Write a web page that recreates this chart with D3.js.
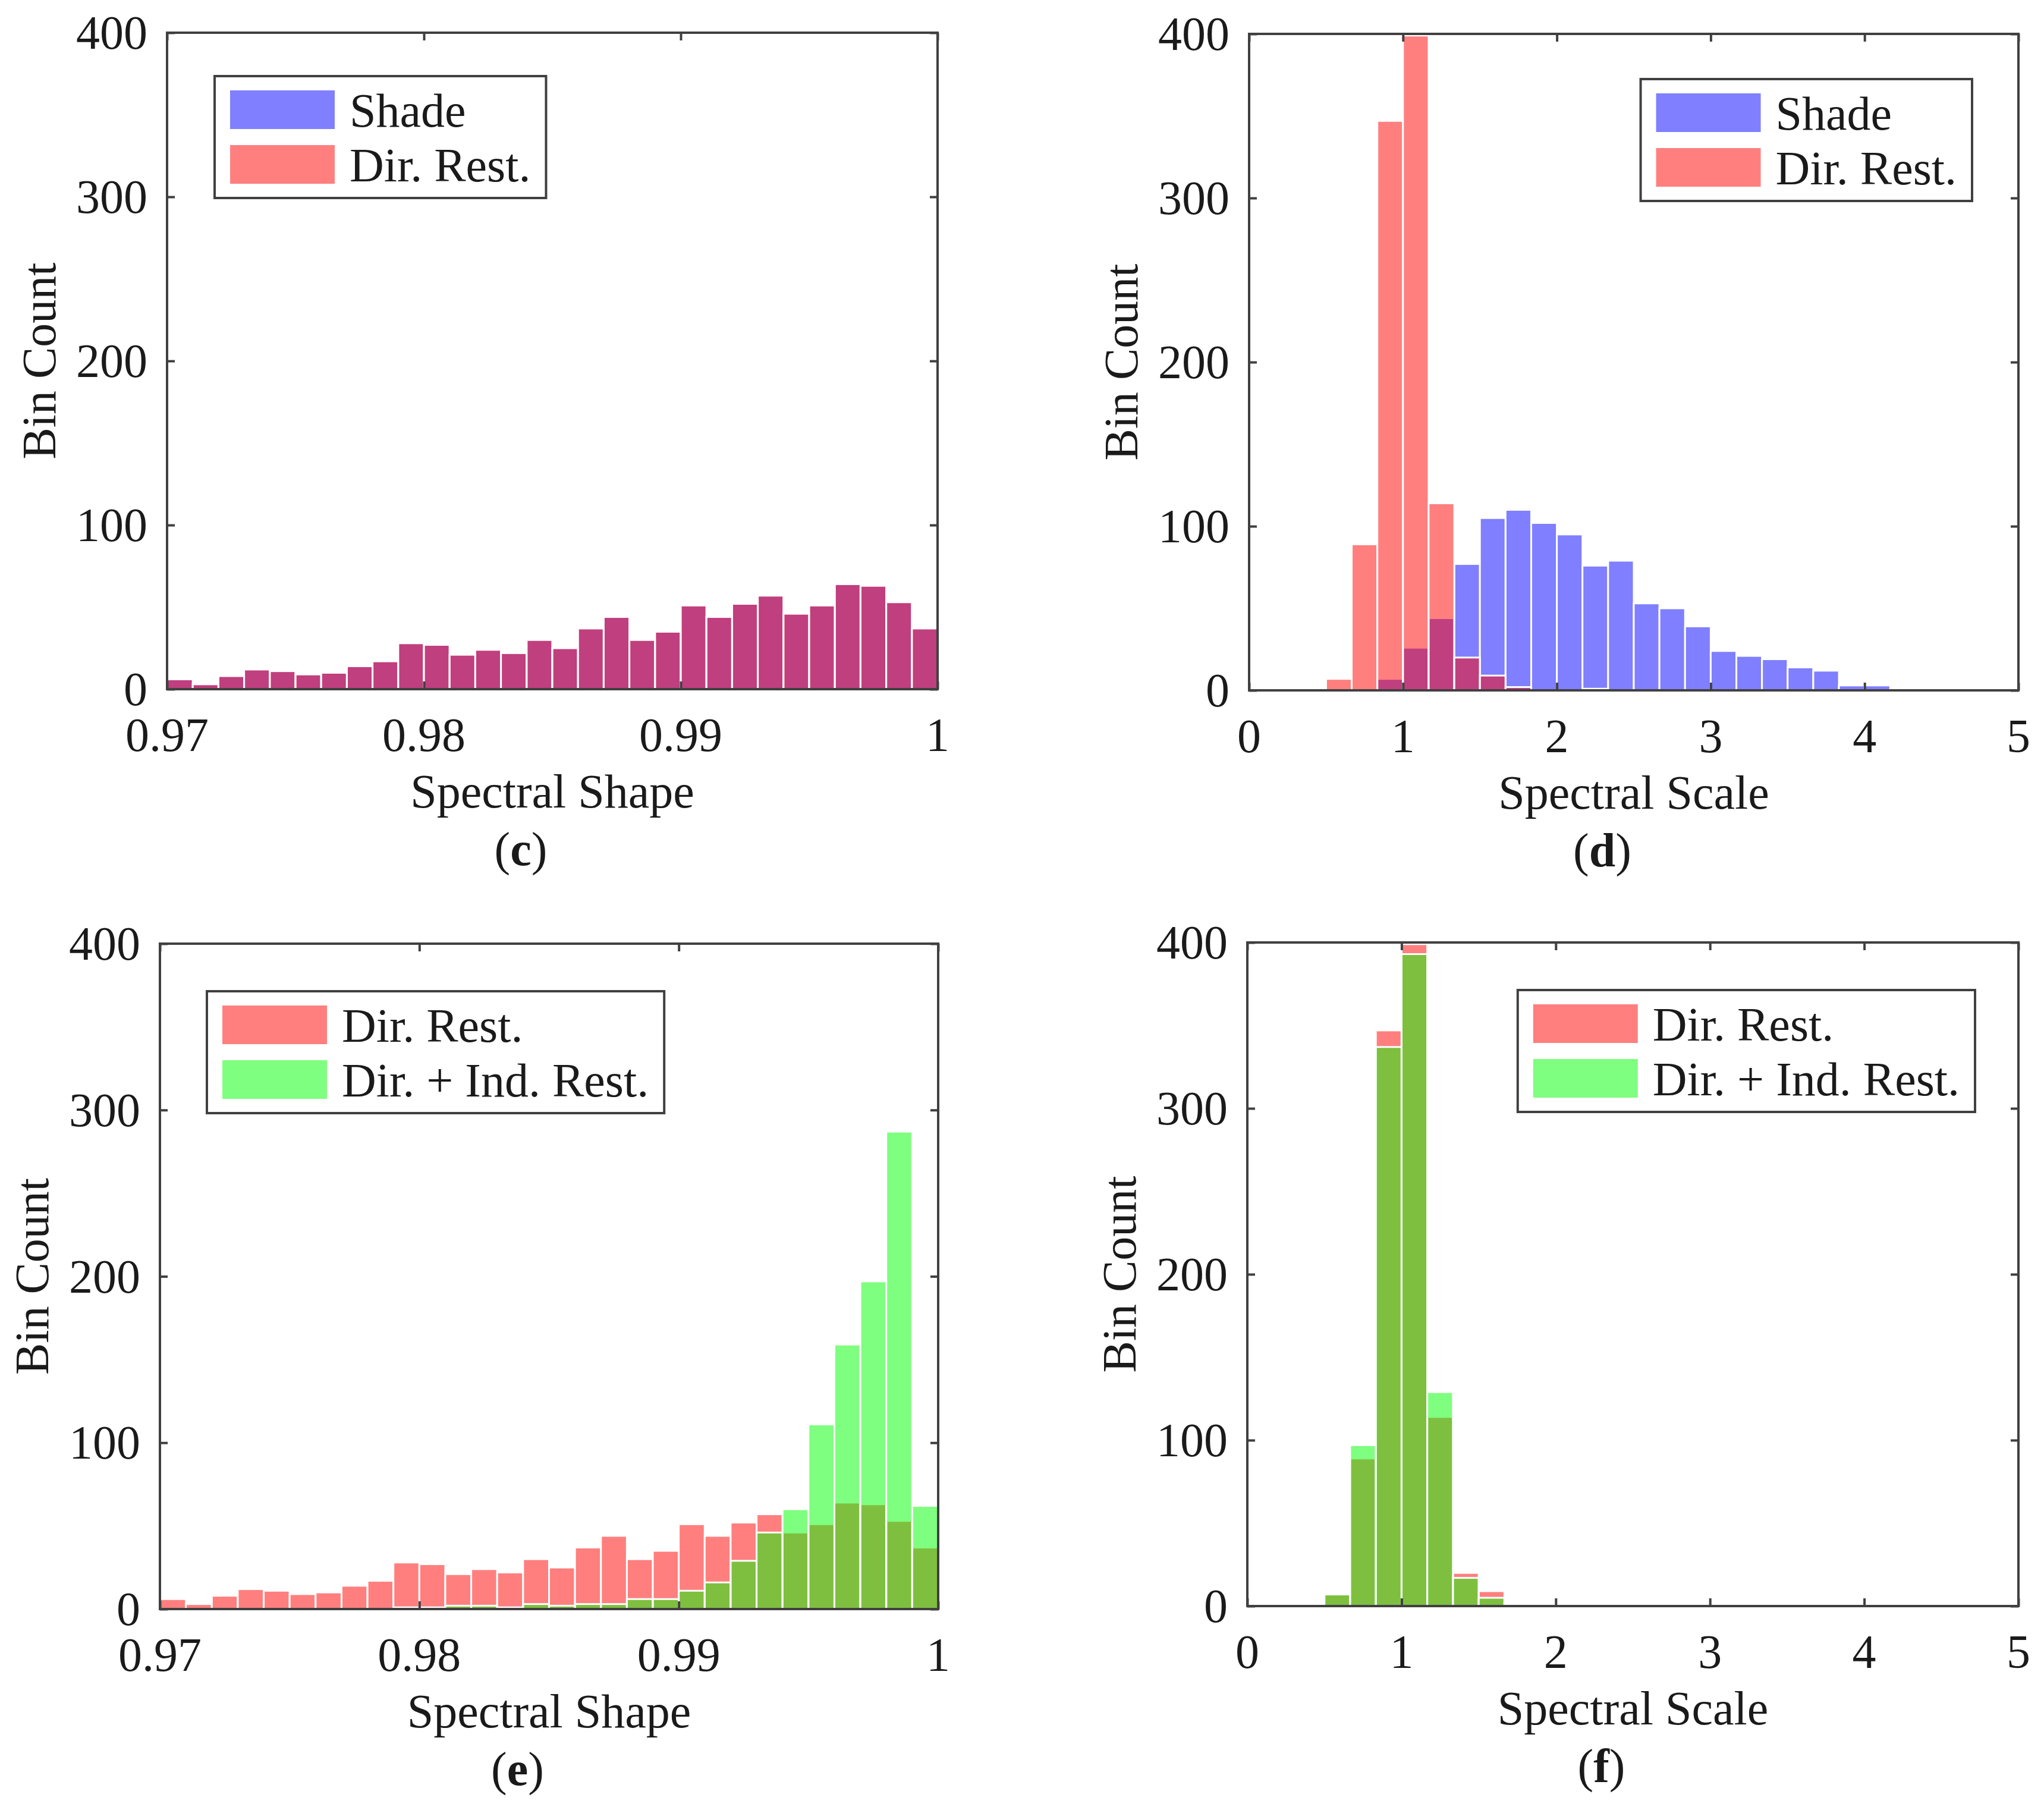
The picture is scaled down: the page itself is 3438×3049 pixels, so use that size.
<!DOCTYPE html>
<html>
<head>
<meta charset="utf-8">
<script src="https://cdn.jsdelivr.net/npm/d3@7"></script>
<style>
  body { margin: 0; background: #fff; }
  text { font-family: "Liberation Serif", "Times New Roman", serif; fill: #1a1a1a; }
</style>
</head>
<body>
<svg id="fig" width="3438" height="3049"></svg>
<script>
// ---- data ----
var shapeDomain = [0.97, 1.0];      // 30 bins of 0.001
var scaleDomain = [0, 5];           // 30 bins of 1/6
var shapeTicks = [0.97, 0.98, 0.99, 1];
var scaleTicks = [0, 1, 2, 3, 4, 5];
var countTicks = [0, 100, 200, 300, 400];

var shapeShade      = [6, 3, 8, 12, 11, 9, 10, 14, 17, 28, 27, 21, 24, 22, 30, 25, 37, 44, 30, 35, 51, 44, 52, 57, 46, 51, 64, 63, 53, 37];
var shapeDirRest    = [6, 3, 8, 12, 11, 9, 10, 14, 17, 28, 27, 21, 24, 22, 30, 25, 37, 44, 30, 35, 51, 44, 52, 57, 46, 51, 64, 63, 53, 37];
var shapeDirIndRest = [0, 0, 0, 0, 0, 0, 0, 0, 0, 1, 1, 2, 2, 1, 3, 2, 3, 3, 6, 6, 11, 16, 29, 46, 60, 111, 159, 197, 287, 62];

var scaleShade      = [0, 0, 0, 0, 0, 7, 26, 44, 77, 105, 110, 102, 95, 76, 79, 53, 50, 39, 24, 21, 19, 14, 12, 3, 3, 1, 1, 0, 0, 0];
var scaleDirRest    = [0, 0, 0, 7, 89, 347, 399, 114, 20, 9, 2, 0, 0, 1, 0, 0, 0, 0, 0, 0, 0, 0, 0, 0, 0, 0, 0, 0, 0, 0];
var scaleDirIndRest = [0, 0, 0, 7, 97, 337, 393, 129, 17, 5, 1, 0, 0, 0, 0, 0, 0, 0, 0, 0, 0, 0, 0, 0, 0, 0, 0, 0, 0, 0];

var BLUE = "#0000ff", RED = "#ff0000", GREEN = "#00ff00";
var FS = 80;

var panels = [
  { tag: "c", left: 281, right: 1577, top: 55, bottom: 1159,
    xDomain: shapeDomain, xTicks: shapeTicks, xLabel: "Spectral Shape",
    series: [{ name: "Shade", values: shapeShade, color: BLUE },
             { name: "Dir. Rest.", values: shapeDirRest, color: RED }],
    legend: { x: 361, y: 128 } },
  { tag: "d", left: 2101, right: 3395, top: 57, bottom: 1161,
    xDomain: scaleDomain, xTicks: scaleTicks, xLabel: "Spectral Scale",
    series: [{ name: "Shade", values: scaleShade, color: BLUE },
             { name: "Dir. Rest.", values: scaleDirRest, color: RED }],
    legend: { right: 3317, y: 133 } },
  { tag: "e", left: 269, right: 1578, top: 1587, bottom: 2706,
    xDomain: shapeDomain, xTicks: shapeTicks, xLabel: "Spectral Shape",
    series: [{ name: "Dir. Rest.", values: shapeDirRest, color: RED },
             { name: "Dir. + Ind. Rest.", values: shapeDirIndRest, color: GREEN }],
    legend: { x: 348, y: 1667 } },
  { tag: "f", left: 2098, right: 3395, top: 1585, bottom: 2701,
    xDomain: scaleDomain, xTicks: scaleTicks, xLabel: "Spectral Scale",
    series: [{ name: "Dir. Rest.", values: scaleDirRest, color: RED },
             { name: "Dir. + Ind. Rest.", values: scaleDirIndRest, color: GREEN }],
    legend: { right: 3322, y: 1665 } }
];

var svg = d3.select("#fig");
svg.append("rect").attr("width", 3438).attr("height", 3049).attr("fill", "#fff");

panels.forEach(function(p) {
  var x = d3.scaleLinear().domain(p.xDomain).range([p.left, p.right]);
  var y = d3.scaleLinear().domain([0, 400]).range([p.bottom, p.top]);
  var g = svg.append("g");

  // bars
  p.series.forEach(function(s) {
    var nb = s.values.length;
    var bw = (p.xDomain[1] - p.xDomain[0]) / nb;
    var bins = s.values.map(function(v, i) {
      return { x0: p.xDomain[0] + i * bw, x1: p.xDomain[0] + (i + 1) * bw, v: v };
    }).filter(function(b) { return b.v > 0; });
    g.append("g").selectAll("rect").data(bins).enter().append("rect")
      .attr("x", function(b) { return x(b.x0); })
      .attr("width", function(b) { return x(b.x1) - x(b.x0); })
      .attr("y", function(b) { return y(b.v); })
      .attr("height", function(b) { return y(0) - y(b.v); })
      .attr("fill", s.color).attr("fill-opacity", 0.5)
      .attr("stroke", "#fff").attr("stroke-width", 3);
  });

  // inward ticks on all four sides
  var tl = 13;
  var axes = [
    [d3.axisBottom(x).tickValues(p.xTicks).tickSize(-tl), p.bottom, 0],
    [d3.axisTop(x).tickValues(p.xTicks).tickSize(-tl), p.top, 0],
    [d3.axisLeft(y).tickValues(countTicks).tickSize(-tl), 0, p.left],
    [d3.axisRight(y).tickValues(countTicks).tickSize(-tl), 0, p.right]
  ];
  axes.forEach(function(a) {
    var ag = g.append("g").attr("transform", "translate(" + a[2] + "," + a[1] + ")")
      .call(a[0].tickFormat(""));
    ag.select(".domain").remove();
    ag.selectAll("line").attr("stroke", "#404040").attr("stroke-width", 4);
  });

  // box
  g.append("rect").attr("x", p.left).attr("y", p.top)
    .attr("width", p.right - p.left).attr("height", p.bottom - p.top)
    .attr("fill", "none").attr("stroke", "#404040").attr("stroke-width", 4);

  // tick labels
  var fmt = d3.format("~g");
  g.append("g").selectAll("text").data(p.xTicks).enter().append("text")
    .attr("x", function(d) { return x(d); }).attr("y", p.bottom + 104)
    .attr("text-anchor", "middle").attr("font-size", FS).text(fmt);
  g.append("g").selectAll("text").data(countTicks).enter().append("text")
    .attr("x", p.left - 33).attr("y", function(d) { return y(d) + 27; })
    .attr("text-anchor", "end").attr("font-size", FS).text(fmt);

  // axis labels
  var cx = (p.left + p.right) / 2;
  g.append("text").attr("x", cx).attr("y", p.bottom + 199)
    .attr("text-anchor", "middle").attr("font-size", FS).text(p.xLabel);
  g.append("text")
    .attr("transform", "translate(" + (p.left - 215 + 27) + "," + ((p.top + p.bottom) / 2) + ") rotate(-90)")
    .attr("text-anchor", "middle").attr("font-size", FS).text("Bin Count");

  // caption
  var cap = g.append("text").attr("x", cx - 53).attr("y", p.bottom + 296)
    .attr("text-anchor", "middle").attr("font-size", FS);
  cap.append("tspan").text("(");
  cap.append("tspan").attr("font-weight", "bold").text(p.tag);
  cap.append("tspan").text(")");

  // legend
  var lg = g.append("g");
  var box = lg.append("rect").attr("fill", "#fff").attr("stroke", "#404040").attr("stroke-width", 4);
  var padL = 26, swW = 176, swH = 65, gap = 25, rowH = 92, padT = 24;
  var maxW = 0;
  p.series.forEach(function(s, i) {
    var cy = padT + swH / 2 + i * rowH;
    lg.append("rect").attr("x", padL).attr("y", cy - swH / 2)
      .attr("width", swW).attr("height", swH)
      .attr("fill", s.color).attr("fill-opacity", 0.5);
    var t = lg.append("text").attr("x", padL + swW + gap).attr("y", cy + 28)
      .attr("font-size", FS).text(s.name);
    maxW = Math.max(maxW, t.node().getComputedTextLength());
  });
  var bwid = padL + swW + gap + maxW + 26;
  var bhgt = padT * 2 + swH + rowH;
  box.attr("x", 0).attr("y", 0).attr("width", bwid).attr("height", bhgt);
  var lx = p.legend.x !== undefined ? p.legend.x : p.legend.right - bwid;
  lg.attr("transform", "translate(" + lx + "," + p.legend.y + ")");
});
</script>
</body>
</html>
